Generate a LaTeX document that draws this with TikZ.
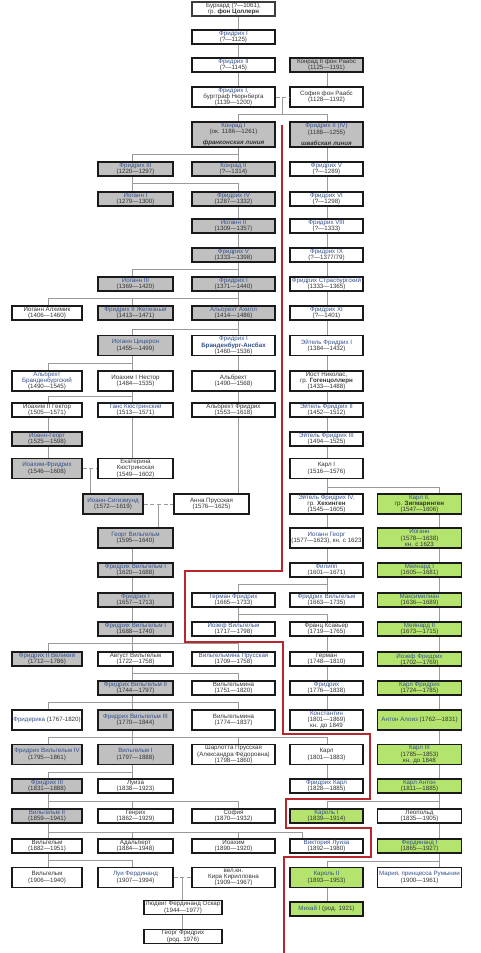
\documentclass[tikz,border=0pt]{standalone}
\usepackage{fontspec}
\setmainfont{Liberation Sans}
\usetikzlibrary{calc}
\definecolor{tinta}{HTML}{1A1A1A}
\definecolor{texto}{HTML}{333333}
\definecolor{azul}{HTML}{34508C}
\definecolor{gris}{HTML}{9A9A9A}
\definecolor{relleno}{HTML}{C0C0C0}
\definecolor{verde}{HTML}{B4E46E}
\definecolor{rojo}{HTML}{B8262E}
\newcommand\lk[1]{\textcolor{azul}{#1}}
\newcommand\offspring[4]{%
  \coordinate (bar) at (0,#3);
  \draw[rama] (#1 -| #2) -- (bar -| #2);
  \foreach \kid/\tr in {#4}
    \draw[rama] (bar -| #2) -- (bar -| \tr) -- (\kid.north -| \tr);
}

\begin{document}
\begin{tikzpicture}[x=0.75pt, y=-0.75pt,
  pers/.style={draw=tinta, line width=0.9pt, inner sep=0pt, align=center, text=texto,
    font=\fontsize{4.65}{4.6}\selectfont, minimum height=10.5pt},
  alta/.style={minimum height=15pt},
  colA/.style={minimum width=52.5pt},
  colB/.style={minimum width=56.25pt},
  colC/.style={minimum width=62.25pt},
  colD/.style={minimum width=54.75pt},
  colE/.style={minimum width=63pt},
  casa/.style={fill=relleno},
  sigm/.style={fill=verde},
  rama/.style={draw=gris, line width=0.6pt},
  boda/.style={rama, densely dashed},
  frontera/.style={draw=rojo, line width=1pt}]
  \useasboundingbox (0,0) rectangle (480,953);
  % trunk lines of the columns
  \coordinate (tA) at (48,0);
  \coordinate (tB) at (132,0);
  \coordinate (tC) at (238,0);
  \coordinate (tD) at (327,0);
  \coordinate (tE) at (439,0);
  \coordinate (tV) at (302,0);

  % first counts
  \node[pers,colC,line width=1.3pt,draw=tinta!85] (burk) at (233.5,9) {Бурхард (?—1061),\\гр. \textbf{фон Цоллерн}};
  \node[pers,colC] (frI) at (233.5,37) {\lk{Фридрих I}\\(?—1125)};
  \node[pers,colC] (frII) at (233.5,65) {\lk{Фридрих II}\\(?—1145)};
  \node[pers,colD,casa] (konrRaabs) at (326.5,65) {Конрад II фон Раабс\\(1125—1191)};
  \node[pers,colC,alta] (frIbg) at (233.5,97) {\lk{Фридрих I,}\\бургграф Нюрнберга\\(1139—1200)};
  \node[pers,colD,alta] (sofia) at (326.5,97) {София фон Раабс\\(1128—1192)};
  \node[pers,colC,casa,minimum height=18.75pt] (konrI) at (233.5,134.5) {\lk{Конрад I}\\(ок. 1186—1261)\\[4pt]\textbf{\textit{франконская линия}}};
  \node[pers,colD,casa,minimum height=18.75pt] (swFrII) at (326.5,134.5) {\lk{Фридрих II (IV)}\\(1188—1255)\\[4pt]\textbf{\textit{швабская линия}}};

  % franconian line
  \node[pers,colB,casa] (frIII) at (135.5,169) {\lk{Фридрих III}\\(1220—1297)};
  \node[pers,colC,casa] (konrII) at (233.5,169) {\lk{Конрад II}\\(?—1314)};
  \node[pers,colB,casa] (ioannI) at (135.5,199) {\lk{Иоганн I}\\(1279—1300)};
  \node[pers,colC,casa] (frIVf) at (233.5,199) {\lk{Фридрих IV}\\(1287—1332)};
  \node[pers,colC,casa] (ioannII) at (233.5,226) {\lk{Иоганн II}\\(1309—1357)};
  \node[pers,colC,casa] (frVf) at (233.5,255) {\lk{Фридрих V}\\(1333—1398)};
  \node[pers,colB,casa] (ioannIII) at (135.5,284) {\lk{Иоганн III}\\(1369—1420)};
  \node[pers,colC,casa] (frIel) at (233.5,284) {\lk{Фридрих I}\\(1371—1440)};
  \node[pers,colA] (alkh) at (47,313) {Иоганн Алхимик\\(1406—1460)};
  \node[pers,colB,casa] (frIIz) at (135.5,313) {\lk{Фридрих II Железный}\\(1413—1471)};
  \node[pers,colC,casa] (albA) at (233.5,313) {\lk{Альбрехт Ахилл}\\(1414—1486)};
  \node[pers,colB,casa,alta] (tsits) at (135.5,345.5) {\lk{Иоганн Цицерон}\\(1455—1499)};
  \node[pers,colC,alta] (frAns) at (233.5,345.5) {\lk{Фридрих I}\\\textbf{\lk{Бранденбург-Ансбах}}\\(1460—1536)};
  \node[pers,colA,alta] (albBr) at (47,381) {\lk{Альбрехт}\\\lk{Бранденбургский}\\(1490—1545)};
  \node[pers,colB,alta] (ioakhI) at (135.5,381) {Иоахим I Нестор\\(1484—1535)};
  \node[pers,colC,alta] (alb) at (233.5,381) {Альбрехт\\(1490—1568)};
  \node[pers,colA] (ioakhII) at (47,410) {Иоахим II Гектор\\(1505—1571)};
  \node[pers,colB] (gans) at (135.5,410) {\lk{Ганс Кюстринский}\\(1513—1571)};
  \node[pers,colC] (albFr) at (233.5,410) {Альбрехт Фридрих\\(1553—1618)};
  \node[pers,colA,casa] (ioannG) at (47,439) {\lk{Иоанн-Георг}\\(1525—1598)};
  \node[pers,colA,casa,alta] (ioakhFr) at (47,468.5) {\lk{Иоахим-Фридрих}\\(1546—1608)};
  \node[pers,colB,alta] (ekat) at (135.5,468.5) {Екатерина\\Кюстринская\\(1549—1602)};
  \node[pers,casa,alta,minimum width=45pt] (ioannS) at (113,504) {\lk{Иоанн-Сигизмунд}\\(1572—1619)};
  \node[pers,colB,alta] (anna) at (211.5,504) {Анна Прусская\\(1576—1625)};
  \node[pers,colB,casa,alta] (georgW) at (135.5,538) {\lk{Георг Вильгельм}\\(1595—1640)};
  \node[pers,colB,casa] (fwI) at (135.5,570) {\lk{Фридрих Вильгельм I}\\(1620—1688)};
  \node[pers,colB,casa] (frIp) at (135.5,600) {\lk{Фридрих I}\\(1657—1713)};
  \node[pers,colB,casa] (fwIp) at (135.5,629) {\lk{Фридрих Вильгельм I}\\(1688—1740)};
  \node[pers,colA,casa] (frGr) at (47,659) {\lk{Фридрих II Великий}\\(1712—1786)};
  \node[pers,colB] (augW) at (135.5,659) {Август Вильгельм\\(1722—1758)};
  \node[pers,colC] (wilhP) at (233.5,659) {\lk{Вильгельмина Прусская}\\(1709—1758)};
  \node[pers,colB,casa] (fwII) at (135.5,688) {\lk{Фридрих Вильгельм II}\\(1744—1797)};
  \node[pers,colC] (wilh1) at (233.5,688) {Вильгельмина\\(1751—1820)};
  \node[pers,colA,alta] (friderika) at (47,720) {\lk{Фридерика} (1767-1820)};
  \node[pers,colB,casa,alta] (fwIII) at (135.5,720) {\lk{Фридрих Вильгельм III}\\(1770—1844)};
  \node[pers,colC,alta] (wilh2) at (233.5,720) {Вильгельмина\\(1774—1837)};
  \node[pers,colA,casa,alta] (fwIV) at (47,754.5) {\lk{Фридрих Вильгельм IV}\\(1795—1861)};
  \node[pers,colB,casa,alta] (wilhI) at (135.5,754.5) {\lk{Вильгельм I}\\(1797—1888)};
  \node[pers,colC,alta] (charl) at (233.5,754.5) {Шарлотта Прусская\\(Александра Фёдоровна)\\(1798—1860)};
  \node[pers,colA,casa] (frIIIk) at (47,786) {\lk{Фридрих III}\\(1831—1888)};
  \node[pers,colB] (luiza) at (135.5,786) {Луиза\\(1838—1923)};
  \node[pers,colA,casa] (wilhII) at (47,816) {\lk{Вильгельм II}\\(1859—1941)};
  \node[pers,colB] (genr) at (135.5,816) {Генрих\\(1862—1929)};
  \node[pers,colC] (sofiya) at (233.5,816) {София\\(1870—1932)};
  \node[pers,colA] (wilhC) at (47,846) {Вильгельм\\(1882—1951)};
  \node[pers,colB] (adalb) at (135.5,846) {Адальберт\\(1884—1948)};
  \node[pers,colC] (ioakh) at (233.5,846) {Иоахим\\(1890—1920)};
  \node[pers,colA,alta] (wilhV) at (47,877.5) {Вильгельм\\(1906—1940)};
  \node[pers,colB,alta] (luiF) at (135.5,877.5) {\lk{Луи Фердинанд}\\(1907—1994)};
  \node[pers,colC,alta] (kira) at (233.5,877.5) {вел.кн.\\Кира Кирилловна\\(1909—1967)};
  \node[pers,minimum width=58.5pt,minimum height=11pt] (ludw) at (183,907.5) {Людвиг Фердинанд Оскар\\(1944—1977)};
  \node[pers,minimum width=58.5pt,minimum height=11pt] (georgF) at (183,936.5) {Георг Фридрих\\(род. 1976)};

  % swabian line
  \node[pers,colD] (swFrV) at (326.5,169) {\lk{Фридрих V}\\(?—1289)};
  \node[pers,colD] (frVI) at (326.5,199) {\lk{Фридрих VI}\\(?—1298)};
  \node[pers,colD] (frVIII) at (326.5,226) {\lk{Фридрих VIII}\\(?—1333)};
  \node[pers,colD] (frIX) at (326.5,255) {\lk{Фридрих IX}\\(?—1377/79)};
  \node[pers,colD] (frStr) at (326.5,284) {\lk{Фридрих Страсбургский}\\(1333—1365)};
  \node[pers,colD] (frXI) at (326.5,313) {\lk{Фридрих XI}\\(?—1401)};
  \node[pers,colD,alta] (eitI) at (326.5,345.5) {\lk{Эйтель Фридрих I}\\(1384—1432)};
  \node[pers,colD,alta] (iost) at (326.5,381) {Иост Николас,\\гр. \textbf{Гогенцоллерн}\\(1433—1488)};
  \node[pers,colD] (eitII) at (326.5,410) {\lk{Эйтель Фридрих II}\\(1452—1512)};
  \node[pers,colD] (eitIII) at (326.5,439) {\lk{Эйтель Фридрих III}\\(1494—1525)};
  \node[pers,colD,alta] (karlI) at (326.5,468.5) {Карл I\\(1516—1576)};
  \node[pers,colD,alta] (eitIV) at (326.5,504) {\lk{Эйтель Фридрих IV,}\\гр. \textbf{Хехинген}\\(1545—1605)};
  \node[pers,colD,alta] (ioannGeo) at (326.5,538) {\lk{Иоганн Георг}\\(1577—1623), кн. с 1623};
  \node[pers,colD] (filipp) at (326.5,570) {\lk{Филипп}\\(1601—1671)};
  \node[pers,colC] (germFr) at (233.5,600) {\lk{Герман Фридрих}\\(1665—1733)};
  \node[pers,colD] (fwH) at (326.5,600) {\lk{Фридрих Вильгельм}\\(1663—1735)};
  \node[pers,colC] (iosef) at (233.5,629) {\lk{Иозеф Вильгельм}\\(1717—1798)};
  \node[pers,colD] (frants) at (326.5,629) {Франц Ксавьер\\(1719—1765)};
  \node[pers,colD] (german) at (326.5,659) {Герман\\(1748—1810)};
  \node[pers,colD] (fridr) at (326.5,688) {\lk{Фридрих}\\(1776—1838)};
  \node[pers,colD,alta] (konst) at (326.5,720) {\lk{Константин}\\(1801—1869)\\кн. до 1849};
  \node[pers,colD,alta] (karlP) at (326.5,754.5) {Карл\\(1801—1883)};
  \node[pers,colD] (frKarl) at (326.5,786) {\lk{Фридрих Карл}\\(1828—1885)};
  \node[pers,colD,sigm] (karolI) at (326.5,816) {\lk{Кароль I}\\(1839—1914)};
  \node[pers,colD] (viktL) at (326.5,846) {\lk{Виктория Луиза}\\(1892—1980)};
  \node[pers,colD,sigm,alta] (karolII) at (326.5,877.5) {\lk{Кароль II}\\(1893—1953)};
  \node[pers,colD,sigm] (mihai) at (326.5,909) {\lk{Михай I} (род. 1921)};

  % sigmaringen line
  \node[pers,colE,sigm,alta] (karlII) at (419.5,504) {\lk{Карл II,}\\гр. \textbf{Зигмаринген}\\(1547—1606)};
  \node[pers,colE,sigm,alta] (ioannZ) at (419.5,538) {\lk{Иоганн}\\(1578—1638)\\кн. с 1623};
  \node[pers,colE,sigm] (meinI) at (419.5,570) {\lk{Мейнард I}\\(1605—1681)};
  \node[pers,colE,sigm] (maks) at (419.5,600) {\lk{Максимилиан}\\(1636—1689)};
  \node[pers,colE,sigm] (meinII) at (419.5,629) {\lk{Мейнард II}\\(1673—1715)};
  \node[pers,colE,sigm] (iosFr) at (419.5,659) {\lk{Йозеф Фридрих}\\(1702—1769)};
  \node[pers,colE,sigm] (karlFr) at (419.5,688) {\lk{Карл Фридрих}\\(1724—1785)};
  \node[pers,colE,sigm,alta] (anton) at (419.5,720) {\lk{Антон Алоиз} (1762—1831)};
  \node[pers,colE,sigm,alta] (karlIII) at (419.5,754.5) {\lk{Карл III}\\(1785—1853)\\кн. до 1848};
  \node[pers,colE,sigm] (karlAnt) at (419.5,786) {\lk{Карл Антон}\\(1811—1885)};
  \node[pers,colE] (leop) at (419.5,816) {Леопольд\\(1835—1905)};
  \node[pers,colE,sigm] (ferd) at (419.5,846) {\lk{Фердинанд I}\\(1865—1927)};
  \node[pers,colE,alta] (maria) at (419.5,877.5) {\lk{Мария, принцесса Румынии}\\(1900—1961)};

  % marriages
  \draw[boda] (frIbg) -- (sofia);
  \draw[boda] (ioakhFr) -- (ekat);
  \draw[boda] (ioannS) -- (anna);
  \draw[boda] (luiF) -- (kira);
  \coordinate (m1) at ($(frIbg.east)!.5!(sofia.west)$);
  \coordinate (m2) at ($(ioakhFr.east)!.5!(ekat.west)$);
  \coordinate (m3) at ($(ioannS.east)!.5!(anna.west)$);
  \coordinate (m4) at ($(luiF.east)!.5!(kira.west)$);
  \draw[rama] (m2) -- (ioannS.north -| m2);
  \draw[rama] (m3) -- (georgW.north -| m3);
  \draw[rama] (m4) -- (ludw.north -| m4);
  \draw[rama] (ludw.south -| m4) -- (georgF.north -| m4);

  % single descent
  \foreach \a/\b in {burk/frI, frI/frII, frII/frIbg, frIVf/ioannII, ioannII/frVf,
      frAns/alb, alb/albFr, albFr/anna}
    \draw[rama] (\a.south -| tC) -- (\b.north -| tC);
  \foreach \a/\b in {konrRaabs/sofia, swFrII/swFrV, swFrV/frVI, frVI/frVIII, frVIII/frIX,
      frIX/frStr, frStr/frXI, frXI/eitI, eitI/iost, iost/eitII, eitII/eitIII, eitIII/karlI,
      eitIV/ioannGeo, ioannGeo/filipp, frants/german, german/fridr, fridr/konst,
      karlP/frKarl, karolII/mihai}
    \draw[rama] (\a.south -| tD) -- (\b.north -| tD);
  \foreach \a/\b in {ioakhII/ioannG, ioannG/ioakhFr}
    \draw[rama] (\a.south -| tA) -- (\b.north -| tA);
  \foreach \a/\b in {gans/ekat, georgW/fwI, fwI/frIp, frIp/fwIp}
    \draw[rama] (\a.south -| tB) -- (\b.north -| tB);
  \foreach \a/\b in {karlII/ioannZ, ioannZ/meinI, meinI/maks, maks/meinII, meinII/iosFr,
      iosFr/karlFr, karlFr/anton, anton/karlIII, karlIII/karlAnt, leop/ferd}
    \draw[rama] (\a.south -| tE) -- (\b.north -| tE);

  % families
  \offspring{m1}{m1}{114}{konrI/tC, swFrII/tD}
  \offspring{konrI.south}{tC}{154}{frIII/tB, konrII/tC}
  \offspring{frIII.south}{tB}{183}{ioannI/tB, frIVf/tC}
  \offspring{frVf.south}{tC}{269}{ioannIII/tB, frIel/tC}
  \offspring{frIel.south}{tC}{298}{alkh/tA, frIIz/tB, albA/tC}
  \offspring{albA.south}{tC}{329}{tsits/tB, frAns/tC}
  \offspring{tsits.south}{tB}{363}{albBr/tA, ioakhI/tB}
  \offspring{ioakhI.south}{tB}{396}{ioakhII/tA, gans/tB}
  \offspring{karlI.south}{tD}{487}{eitIV/tD, karlII/tE}
  \offspring{filipp.south}{tD}{584}{germFr/tC, fwH/tD}
  \offspring{germFr.south}{tC}{614}{iosef/tC, frants/tD}
  \offspring{fwIp.south}{tB}{643}{frGr/tA, augW/tB, wilhP/tC}
  \offspring{augW.south}{tB}{673}{fwII/tB, wilh1/tC}
  \offspring{fwII.south}{tB}{702}{friderika/tA, fwIII/tB, wilh2/tC}
  \offspring{fwIII.south}{tB}{737}{fwIV/tA, wilhI/tB, charl/tC, karlP/tD}
  \offspring{wilhI.south}{tB}{772}{frIIIk/tA, luiza/tB}
  \offspring{frIIIk.south}{tA}{801}{wilhII/tA, genr/tB, sofiya/tC}
  \offspring{karlAnt.south}{tE}{801}{karolI/tD, leop/tE}
  \offspring{wilhII.south}{tA}{832}{wilhC/tA, adalb/tB, ioakh/tC, viktL/tV}
  \offspring{wilhC.south}{tA}{860}{wilhV/tA, luiF/tB}
  \offspring{ferd.south}{tE}{861}{karolII/tD, maria/tE}

  % border of the hohenzollern-sigmaringen branch
  \draw[frontera] (282,125) -- (282,571) -- (185,571) -- (185,642) -- (283,642)
    -- (283,734) -- (370,734) -- (370,799) -- (286,799) -- (286,828) -- (371,828)
    -- (371,857) -- (284,857) -- (284,953);
\end{tikzpicture}
\end{document}
